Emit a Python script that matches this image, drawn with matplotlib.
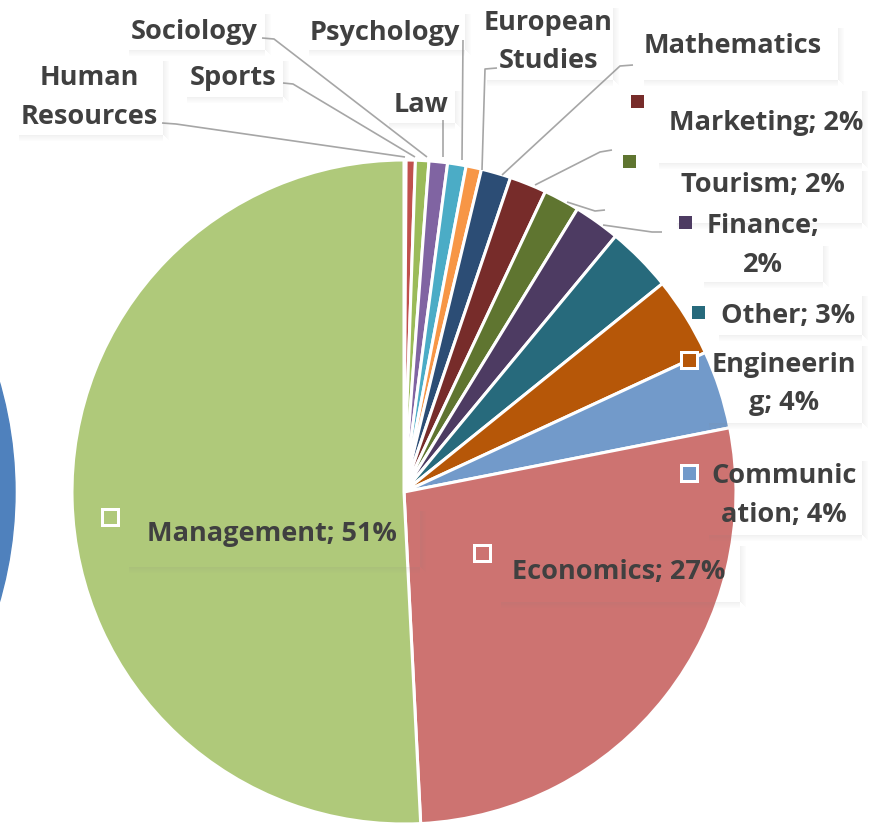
import matplotlib
matplotlib.use("Agg")
import matplotlib.pyplot as plt
from matplotlib.patches import Rectangle, Circle

# ---- data ----
categories = ["Human Resources", "Sports", "Sociology", "Law", "Psychology",
              "European Studies", "Mathematics", "Marketing", "Tourism", "Finance",
              "Other", "Engineering", "Communication", "Economics", "Management"]
values = [0.1, 0.45, 0.65, 0.9, 0.9, 0.75, 1.45, 1.8, 1.75, 2.25,
          3.2, 3.9, 3.8, 27.3, 50.8]
colors = ["#4F81BD", "#C0504D", "#9BBB59", "#8064A2", "#4BACC6",
          "#F79646", "#2C4D75", "#772C2A", "#5F7530", "#4D3B62",
          "#276A7C", "#B65708", "#729ACA", "#CD7371", "#AFC97A"]

W, H = 876, 823
fig = plt.figure(figsize=(W / 100, H / 100), dpi=100)
ax = fig.add_axes([0, 0, 1, 1])

# partial circle at the left edge
ax.add_patch(Circle((-381, 492), 396, color="#4F81BD", zorder=0))

cx, cy, R = 404, 492, 332
ax.pie(values, colors=colors, startangle=-90, counterclock=True,
       center=(cx, cy), radius=R,
       wedgeprops=dict(edgecolor="white", linewidth=2.2))
ax.set_xlim(0, W)
ax.set_ylim(H, 0)
ax.set_aspect("equal")
ax.axis("off")

total = sum(values)
pct = {c: f"{round(v / total * 100)}%" for c, v in zip(categories, values)}
col = dict(zip(categories, colors))

TXT = "#404040"
FONT = dict(family=["Open Sans", "DejaVu Sans"], fontweight="bold", fontsize=19.5, color=TXT)


def shadow(x0, y0, x1, y1):
    n = 6
    for i in range(n):
        a = 0.10 * (1 - i / n)
        ax.add_patch(Rectangle((x0 + 4, y1 + i), x1 - x0 - 4, 1, color="#7f7f7f",
                               alpha=a, lw=0, zorder=3))
        ax.add_patch(Rectangle((x1 + i, y0 + 6), 1, y1 - y0 - 6 + i, color="#7f7f7f",
                               alpha=a, lw=0, zorder=3))


def txt(x, y, s):
    ax.text(x, y, s, ha="center", va="baseline", zorder=6, **FONT)


def key(x, y, c, size=13, border=False):
    if border:
        s = 19
        ax.add_patch(Rectangle((x - s / 2, y - s / 2), s, s, facecolor="white",
                               edgecolor="none", zorder=6))
        s2 = 13
        ax.add_patch(Rectangle((x - s2 / 2, y - s2 / 2), s2, s2, facecolor=c,
                               edgecolor="none", zorder=7))
    else:
        ax.add_patch(Rectangle((x - size / 2, y - size / 2), size, size, facecolor=c,
                               edgecolor="none", zorder=6))


def leader(pts):
    xs = [p[0] for p in pts]
    ys = [p[1] for p in pts]
    ax.plot(xs, ys, color="#A6A6A6", lw=1.2, zorder=2, solid_capstyle="butt")


# leader lines
leader([(162, 123), (176, 124), (405, 157)])
leader([(283, 83), (293, 84), (415, 157)])
leader([(262, 38), (274, 39), (427, 157)])
leader([(443, 120), (443, 157)])
leader([(463, 40), (462, 160)])
leader([(497, 68), (485, 69), (482, 170)])
leader([(633, 65), (620, 66), (502, 175)])
leader([(612, 150), (600, 152), (535, 185)])
leader([(605, 210), (595, 211), (567, 202)])
leader([(662, 232), (652, 232), (603, 225)])

# label shadows
shadow(15, 55, 163, 135)
shadow(183, 55, 283, 97)
shadow(125, 8, 265, 50)
shadow(305, 8, 465, 50)
shadow(385, 85, 455, 123)
shadow(483, 2, 613, 80)
shadow(640, 22, 838, 80)
shadow(655, 85, 862, 163)
shadow(673, 165, 862, 223)
shadow(700, 240, 823, 282)
shadow(715, 290, 862, 335)
shadow(705, 340, 862, 423)
shadow(705, 455, 862, 535)
shadow(497, 540, 740, 602)
shadow(125, 505, 420, 567)

# labels without values
txt(89, 85, "Human")
txt(89, 124, "Resources")
txt(233, 85, "Sports")
txt(194, 39, "Sociology")
txt(385, 40, "Psychology")
txt(421, 112, "Law")
txt(548, 30, "European")
txt(548, 68, "Studies")
txt(733, 53, "Mathematics")

# labels with legend keys
key(637, 101, col["Marketing"])
txt(766, 130, f"Marketing; {pct['Marketing']}")
key(629, 161, col["Tourism"])
txt(763, 192, f"Tourism; {pct['Tourism']}")
key(685, 222, col["Finance"])
txt(763, 233, "Finance;")
txt(763, 272, pct["Finance"])
key(698, 312, col["Other"])
txt(788, 323, f"Other; {pct['Other']}")
key(689, 360, col["Engineering"], border=True)
txt(784, 372, "Engineerin")
txt(784, 410, f"g; {pct['Engineering']}")
key(689, 473, col["Communication"], border=True)
txt(784, 483, "Communic")
txt(784, 522, f"ation; {pct['Communication']}")
key(482, 553, col["Economics"], border=True)
txt(619, 579, f"Economics; {pct['Economics']}")
key(110, 517, col["Management"], border=True)
txt(272, 541, f"Management; {pct['Management']}")

fig.savefig("out.png", dpi=100)
